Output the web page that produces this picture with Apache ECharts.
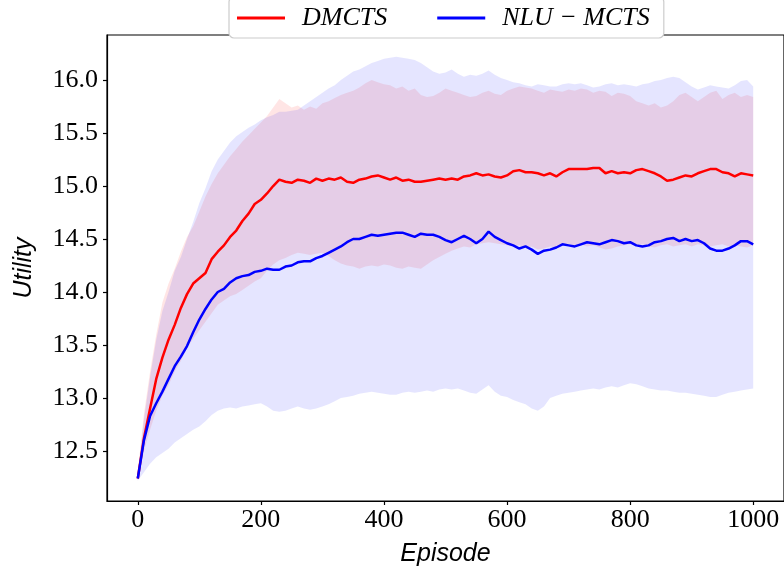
<!DOCTYPE html>
<html>
<head>
<meta charset="utf-8">
<script src="https://cdn.jsdelivr.net/npm/echarts@6/dist/echarts.min.js"></script>
<style>html,body{margin:0;padding:0;background:#fff}#c{width:784px;height:573px}</style>
</head>
<body>
<div id="c"></div>
<script>
const episodes = [0,10,20,30,40,50,60,70,80,90,100,110,120,130,140,150,160,170,180,190,200,210,220,230,240,250,260,270,280,290,300,310,320,330,340,350,360,370,380,390,400,410,420,430,440,450,460,470,480,490,500,510,520,530,540,550,560,570,580,590,600,610,620,630,640,650,660,670,680,690,700,710,720,730,740,750,760,770,780,790,800,810,820,830,840,850,860,870,880,890,900,910,920,930,940,950,960,970,980,990,1000];

const dmctsMean = [12.24,12.62,12.90,13.18,13.38,13.55,13.69,13.85,13.98,14.08,14.13,14.18,14.31,14.38,14.44,14.52,14.58,14.67,14.74,14.83,14.87,14.93,15.00,15.06,15.04,15.03,15.06,15.05,15.03,15.07,15.05,15.07,15.06,15.08,15.04,15.03,15.06,15.07,15.09,15.10,15.08,15.06,15.08,15.05,15.06,15.04,15.04,15.05,15.06,15.07,15.06,15.07,15.06,15.09,15.10,15.12,15.10,15.11,15.09,15.08,15.10,15.14,15.15,15.13,15.13,15.12,15.10,15.12,15.09,15.13,15.16,15.16,15.16,15.16,15.17,15.17,15.12,15.14,15.12,15.13,15.12,15.15,15.16,15.14,15.12,15.09,15.05,15.06,15.08,15.10,15.09,15.12,15.14,15.16,15.16,15.13,15.12,15.09,15.12,15.11,15.10];

const dmctsUpper = [12.30,12.85,13.25,13.60,13.90,14.08,14.22,14.38,14.52,14.62,14.76,14.90,15.02,15.12,15.20,15.28,15.35,15.42,15.48,15.54,15.60,15.66,15.74,15.82,15.78,15.74,15.76,15.72,15.75,15.73,15.78,15.80,15.83,15.86,15.88,15.90,15.93,15.97,16.00,15.98,15.96,15.95,15.92,15.94,15.90,15.92,15.86,15.84,15.85,15.88,15.92,15.90,15.88,15.86,15.84,15.85,15.88,15.90,15.87,15.86,15.90,15.92,15.94,15.93,15.92,15.90,15.88,15.91,15.90,15.89,15.91,15.90,15.92,15.91,15.88,15.90,15.89,15.85,15.88,15.87,15.85,15.80,15.78,15.76,15.78,15.74,15.76,15.80,15.86,15.88,15.84,15.80,15.84,15.88,15.90,15.82,15.86,15.88,15.84,15.86,15.84];

const dmctsLower = [12.22,12.50,12.70,12.88,13.02,13.12,13.25,13.35,13.47,13.56,13.64,13.72,13.80,13.88,13.92,13.96,13.98,14.02,14.06,14.10,14.13,14.20,14.26,14.30,14.32,14.35,14.37,14.36,14.35,14.36,14.37,14.34,14.30,14.27,14.25,14.24,14.22,14.24,14.25,14.24,14.26,14.25,14.23,14.22,14.24,14.23,14.22,14.26,14.30,14.33,14.36,14.39,14.41,14.43,14.42,14.45,14.46,14.47,14.46,14.45,14.44,14.43,14.44,14.42,14.43,14.40,14.41,14.43,14.42,14.44,14.45,14.44,14.45,14.43,14.44,14.42,14.40,14.41,14.43,14.44,14.45,14.44,14.45,14.43,14.42,14.44,14.45,14.43,14.44,14.45,14.43,14.45,14.44,14.43,14.44,14.45,14.43,14.44,14.43,14.42,14.44];

const nluMean = [12.24,12.60,12.83,12.95,13.06,13.18,13.30,13.39,13.49,13.62,13.74,13.84,13.93,14.00,14.03,14.09,14.13,14.15,14.16,14.19,14.20,14.22,14.21,14.21,14.24,14.25,14.28,14.29,14.29,14.32,14.34,14.37,14.40,14.43,14.47,14.50,14.50,14.52,14.54,14.53,14.54,14.55,14.56,14.56,14.54,14.52,14.55,14.54,14.54,14.52,14.49,14.47,14.50,14.53,14.50,14.46,14.50,14.57,14.52,14.49,14.46,14.44,14.41,14.43,14.40,14.36,14.39,14.40,14.42,14.45,14.44,14.43,14.45,14.47,14.46,14.45,14.47,14.49,14.48,14.46,14.47,14.44,14.43,14.44,14.47,14.48,14.50,14.51,14.48,14.50,14.48,14.49,14.46,14.41,14.39,14.39,14.41,14.44,14.48,14.48,14.45];

const nluUpper = [12.28,12.80,13.20,13.55,13.82,14.00,14.20,14.33,14.50,14.66,14.84,14.98,15.14,15.25,15.33,15.41,15.47,15.51,15.55,15.58,15.62,15.65,15.67,15.70,15.70,15.71,15.72,15.76,15.80,15.84,15.88,15.92,15.95,16.00,16.04,16.08,16.10,16.13,16.16,16.18,16.20,16.21,16.22,16.21,16.20,16.19,16.16,16.12,16.08,16.06,16.07,16.10,16.06,16.03,16.05,16.04,16.06,16.09,16.05,16.02,16.00,15.98,15.97,15.95,15.94,15.96,15.95,15.94,15.94,15.96,15.97,15.96,15.97,15.95,15.93,15.94,15.96,15.97,15.95,15.96,15.95,15.94,15.96,15.97,15.99,16.00,16.02,16.03,16.02,15.98,15.94,15.91,15.93,15.95,15.94,15.93,15.92,15.95,15.99,16.00,15.94];

const nluLower = [12.22,12.30,12.38,12.44,12.48,12.52,12.58,12.62,12.66,12.70,12.73,12.78,12.84,12.88,12.90,12.91,12.90,12.92,12.93,12.94,12.95,12.92,12.88,12.87,12.88,12.90,12.92,12.90,12.89,12.90,12.92,12.94,12.97,13.00,13.01,13.02,13.04,13.05,13.06,13.05,13.04,13.03,13.03,13.05,13.06,13.05,13.06,13.07,13.06,13.08,13.09,13.08,13.09,13.07,13.05,13.04,13.08,13.12,13.06,13.02,13.01,12.98,12.96,12.94,12.90,12.88,12.92,13.00,13.02,13.04,13.05,13.06,13.07,13.08,13.09,13.08,13.10,13.11,13.10,13.12,13.14,13.13,13.11,13.09,13.08,13.07,13.07,13.06,13.05,13.05,13.04,13.03,13.02,13.01,13.01,13.03,13.05,13.06,13.07,13.08,13.09];

const xTicks = [0,200,400,600,800,1000];
const yTicks = [12.5,13.0,13.5,14.0,14.5,15.0,15.5,16.0];

const seriesNames = ['DMCTS', 'NLU \u2212 MCTS'];

function pairs(ys) { return episodes.map((x, i) => [x, ys[i]]); }

const chart = echarts.init(document.getElementById('c'), null, {renderer: 'canvas'});

function band(name, up, lo, color) {
  return {
    name, type: 'custom', silent: true, z: 1, clip: true,
    data: episodes.map((x, i) => [x, lo[i], up[i]]),
    encode: {x: 0, y: [1, 2]},
    renderItem: function (params, api) {
      if (params.dataIndex !== 0) return null;
      const pts = [];
      for (let i = 0; i < episodes.length; i++) pts.push(api.coord([episodes[i], up[i]]));
      for (let i = episodes.length - 1; i >= 0; i--) pts.push(api.coord([episodes[i], lo[i]]));
      return {type: 'polygon', shape: {points: pts}, style: {fill: color, stroke: null}};
    }
  };
}

const option = {
  animation: false,
  backgroundColor: '#ffffff',
  grid: {left: 107, top: 35, width: 679, height: 466, show: true, borderColor: '#000', borderWidth: 1.2, backgroundColor: 'transparent'},
  legend: {
    data: [
      {name: seriesNames[0], icon: 'rect', itemStyle: {color: '#ff0000'}},
      {name: seriesNames[1], icon: 'rect', itemStyle: {color: '#0000ff'}}
    ],
    left: 229, top: -3,
    padding: [8, 14, 7, 8],
    itemWidth: 48, itemHeight: 3, itemGap: 50,
    backgroundColor: '#fff',
    borderColor: '#cccccc', borderWidth: 1.2, borderRadius: 5,
    textStyle: {fontFamily: 'Liberation Serif', fontStyle: 'italic', fontSize: 26, color: '#000', padding: [0, 0, 0, 12]}
  },
  xAxis: {
    type: 'value', min: -50, max: 1050,
    axisLine: {show: true, onZero: false, lineStyle: {color: '#000', width: 1.2}},
    axisTick: {show: true, inside: false, length: 4, lineStyle: {color: '#000', width: 1.2}, customValues: xTicks},
    axisLabel: {customValues: xTicks, margin: 6, fontFamily: 'Liberation Serif', fontSize: 26, color: '#000', formatter: v => String(v)},
    splitLine: {show: false},
    name: 'Episode', nameLocation: 'middle', nameGap: 41,
    nameTextStyle: {fontFamily: 'Liberation Sans', fontStyle: 'italic', fontSize: 25, color: '#000'}
  },
  yAxis: {
    type: 'value', min: 12.028, max: 16.425,
    axisLine: {show: true, onZero: false, lineStyle: {color: '#000', width: 1.2}},
    axisTick: {show: true, inside: false, length: 4, lineStyle: {color: '#000', width: 1.2}, customValues: yTicks},
    axisLabel: {customValues: yTicks, margin: 9, fontFamily: 'Liberation Serif', fontSize: 26, color: '#000', formatter: v => v.toFixed(1)},
    splitLine: {show: false},
    name: 'Utility', nameLocation: 'middle', nameGap: 70, nameRotate: 90,
    nameTextStyle: {fontFamily: 'Liberation Sans', fontStyle: 'italic', fontSize: 25, color: '#000'}
  },
  series: [
    band('dmcts_band', dmctsUpper, dmctsLower, 'rgba(255,0,0,0.1)'),
    band('nlu_band', nluUpper, nluLower, 'rgba(0,0,255,0.1)'),
    {name: seriesNames[0], type: 'line', data: pairs(dmctsMean), symbol: 'none', z: 5,
     lineStyle: {color: '#ff0000', width: 2.5}, itemStyle: {color: '#ff0000'}},
    {name: seriesNames[1], type: 'line', data: pairs(nluMean), symbol: 'none', z: 5,
     lineStyle: {color: '#0000ff', width: 2.5}, itemStyle: {color: '#0000ff'}}
  ]
};
chart.setOption(option);
</script>
</body>
</html>
